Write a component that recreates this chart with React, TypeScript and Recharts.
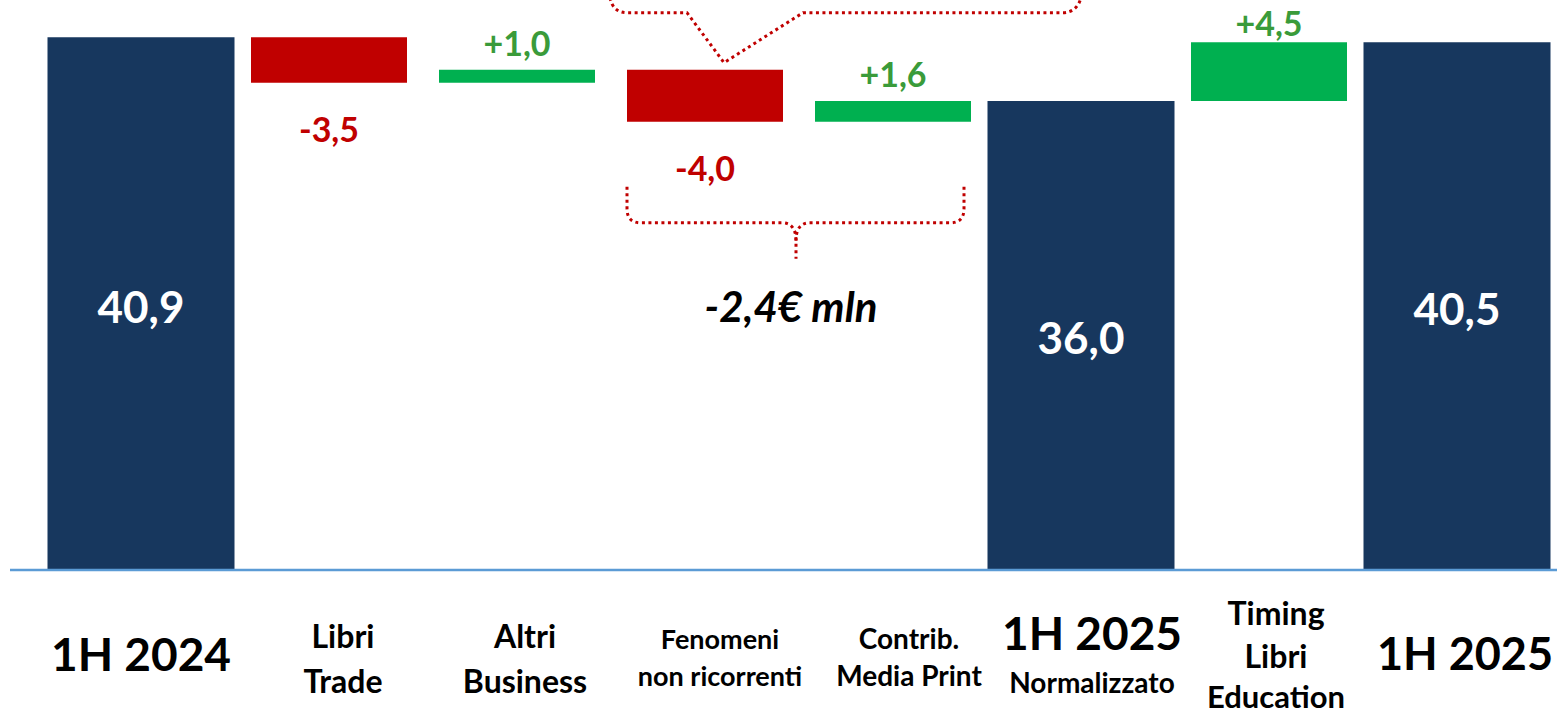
import { BarChart, Bar, XAxis, YAxis, LabelList, Rectangle } from 'recharts';

const categories = [
  '1H 2024',
  'Libri Trade',
  'Altri Business',
  'Fenomeni non ricorrenti',
  'Contrib. Media Print',
  '1H 2025 Normalizzato',
  'Timing Libri Education',
  '1H 2025',
];
const tickLines = [
  ['1H 2024'],
  ['Libri', 'Trade'],
  ['Altri', 'Business'],
  ['Fenomeni', 'non ricorrenti'],
  ['Contrib.', 'Media Print'],
  ['1H 2025', 'Normalizzato'],
  ['Timing', 'Libri', 'Education'],
  ['1H 2025'],
];
const values = [40.9, -3.5, 1.0, -4.0, 1.6, 36.0, 4.5, 40.5];
const isTotal = [true, false, false, false, false, true, false, true];
const bracketNote = '-2,4€ mln';

const NAVY = '#17375E';
const RED = '#C00000';
const GREEN = '#00B050';
const GREEN_TEXT = '#3A9B3A';
const FONT = 'Lato, "Open Sans", sans-serif';

// running totals -> [low, high] ranges for a floating-bar waterfall
let running = 0;
const data = categories.map((name, i) => {
  let low: number;
  let high: number;
  if (isTotal[i]) {
    low = 0;
    high = values[i];
    running = values[i];
  } else {
    const next = running + values[i];
    low = Math.min(running, next);
    high = Math.max(running, next);
    running = next;
  }
  return { name, idx: i, range: [low, high] };
});

const fmt = (v: number, signed: boolean) =>
  (signed && v > 0 ? '+' : '') + v.toFixed(1).replace('.', ',');

// per-tick text sizes / offsets (the slide mixes several font sizes)
const TICK_CFG = [
  { sizes: [46], ys: [81], dx: 0 },
  { sizes: [32, 32], ys: [63, 108], dx: 14 },
  { sizes: [32, 32], ys: [63, 108], dx: 8 },
  { sizes: [27, 27], ys: [66, 103], dx: 15 },
  { sizes: [28, 28], ys: [66, 103], dx: 16 },
  { sizes: [46, 28], ys: [60, 110], dx: 11 },
  { sizes: [32, 32, 31], ys: [40, 83, 124], dx: 7 },
  { sizes: [45], ys: [81], dx: 8 },
];

const CategoryTick = (props: any) => {
  const { x, y, payload } = props;
  const i = payload.index;
  const cfg = TICK_CFG[i];
  return (
    <g>
      {tickLines[i].map((line, k) => (
        <text
          key={k}
          x={x + cfg.dx}
          y={y + cfg.ys[k]}
          textAnchor="middle"
          dominantBaseline="central"
          fontFamily={FONT}
          fontWeight={700}
          fontSize={cfg.sizes[k]}
          fill="#000"
        >
          {line}
        </text>
      ))}
    </g>
  );
};

const WaterfallShape = (props: any) => {
  const { x, y, width, height, payload } = props;
  const i = payload.idx;
  const inset = isTotal[i] ? 0 : 15.5;
  const fill = isTotal[i] ? NAVY : values[i] < 0 ? RED : GREEN;
  return <Rectangle x={x + inset} y={y} width={width - 2 * inset} height={height} fill={fill} />;
};

const dotted = { stroke: RED, strokeWidth: 3, strokeDasharray: '3 3.5', fill: 'none' };

const ValueLabel = (props: any) => {
  const vb = props.viewBox ?? props;
  const { x, y, width, height } = vb;
  const i = Number(props.value);
  const top = Math.min(y, y + height);
  const bottom = Math.max(y, y + height);
  const cx = x + width / 2;
  const v = values[i];

  let label;
  if (isTotal[i]) {
    label = (
      <text x={cx} y={(top + bottom) / 2 + 2} textAnchor="middle" dominantBaseline="central"
        fontFamily={FONT} fontWeight={700} fontSize={44} fill="#fff">
        {fmt(v, false)}
      </text>
    );
  } else if (v < 0) {
    label = (
      <text x={cx} y={bottom + 46} textAnchor="middle" dominantBaseline="central"
        fontFamily={FONT} fontWeight={700} fontSize={34} fill={RED}>
        {fmt(v, true)}
      </text>
    );
  } else {
    label = (
      <text x={cx} y={Math.max(top - 27, 22)} textAnchor="middle" dominantBaseline="central"
        fontFamily={FONT} fontWeight={700} fontSize={34} fill={GREEN_TEXT}>
        {fmt(v, true)}
      </text>
    );
  }

  // brace annotations anchored on the "Fenomeni non ricorrenti" bar
  let note = null;
  if (i === 3) {
    const L = cx - 78;
    const R = cx + 259;
    const tx = cx + 91;
    const yA = bottom + 65;
    const yB = bottom + 101;
    const yT = bottom + 137;
    const h = top - 57;
    const tipY = top - 7;
    note = (
      <g>
        <path {...dotted}
          d={`M ${L} ${yA} L ${L} ${yB - 14} Q ${L} ${yB} ${L + 14} ${yB} L ${tx - 14} ${yB} Q ${tx} ${yB} ${tx} ${yB + 18} L ${tx} ${yT}`} />
        <path {...dotted}
          d={`M ${R} ${yA} L ${R} ${yB - 14} Q ${R} ${yB} ${R - 14} ${yB} L ${tx + 14} ${yB} Q ${tx} ${yB} ${tx} ${yB + 18}`} />
        <path {...dotted}
          d={`M ${cx - 95} ${h - 15} Q ${cx - 92} ${h} ${cx - 78} ${h} L ${cx - 18} ${h} L ${cx + 19} ${tipY} L ${cx + 98} ${h} L ${cx + 357} ${h} Q ${cx + 372} ${h} ${cx + 376} ${h - 15}`} />
        <text x={tx - 5} y={bottom + 184} textAnchor="middle" dominantBaseline="central"
          fontFamily={FONT} fontWeight={700} fontStyle="italic" fontSize={42} fill="#000">
          {bracketNote}
        </text>
      </g>
    );
  }

  return (
    <g>
      {label}
      {note}
    </g>
  );
};

export default function App() {
  return (
    <div style={{ position: 'absolute', left: 0, top: 0, background: '#fff', fontFamily: FONT }}>
      <BarChart
        width={1557}
        height={714}
        data={data}
        margin={{ top: 0, right: 0, bottom: 0, left: 10 }}
        barCategoryGap={0.5}
      >
        <XAxis
          dataKey="name"
          height={144}
          interval={0}
          padding={{ left: 37, right: 6 }}
          axisLine={{ stroke: '#5B9BD5', strokeWidth: 2.5 }}
          tickLine={false}
          tickSize={0}
          tick={<CategoryTick />}
        />
        <YAxis hide domain={[0, 43.75]} />
        <Bar dataKey="range" shape={WaterfallShape} isAnimationActive={false}>
          <LabelList dataKey="idx" content={ValueLabel} />
        </Bar>
      </BarChart>
    </div>
  );
}
